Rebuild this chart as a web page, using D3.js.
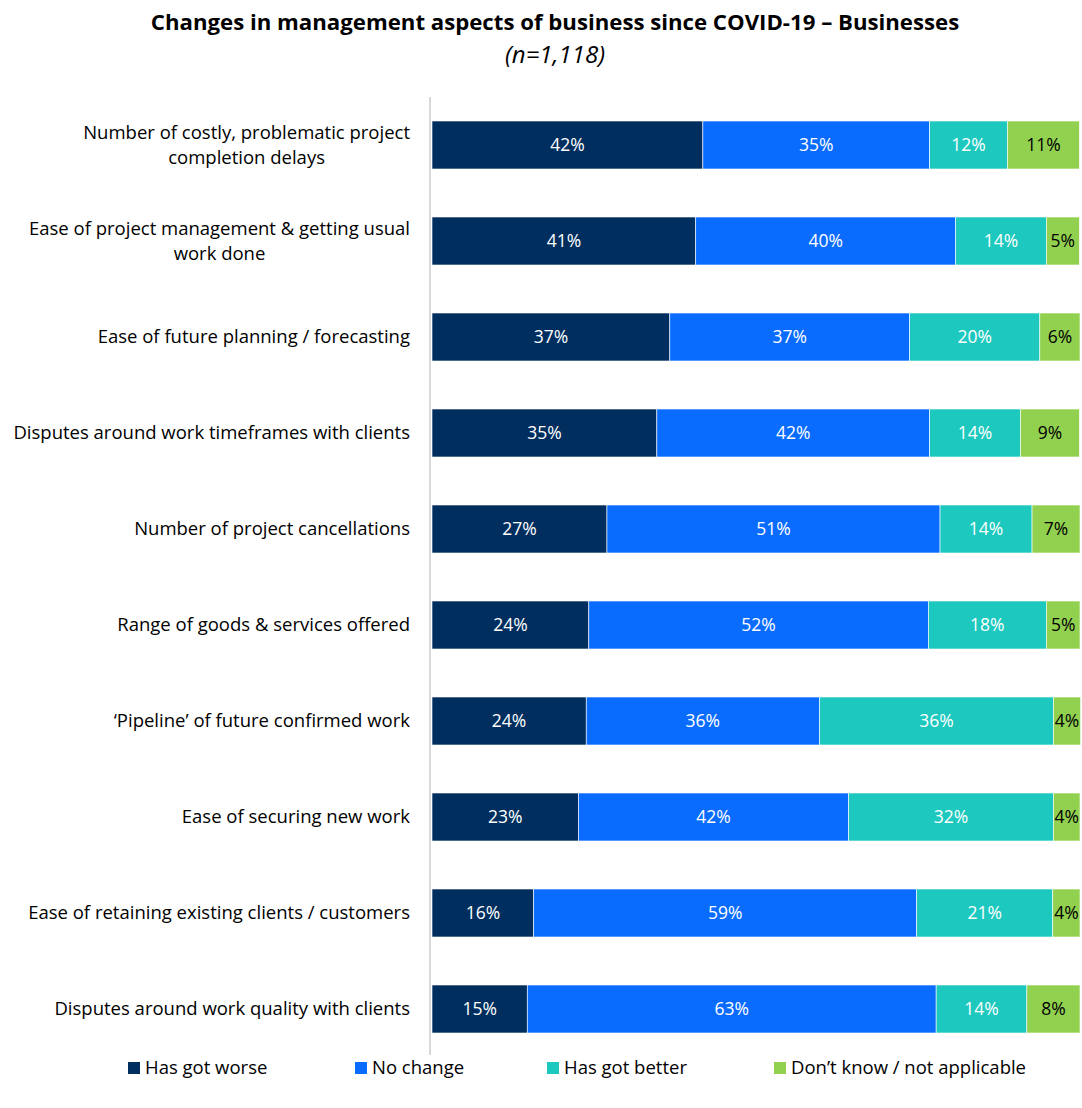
<!DOCTYPE html>
<html>
<head>
<meta charset="utf-8">
<script src="https://cdn.jsdelivr.net/npm/d3@7"></script>
<style>
  body { margin: 0; background: #fff; }
  text { font-family: "Open Sans", sans-serif; }
</style>
</head>
<body>
<div id="Chart"></div>
<script>
// categories (top to bottom)
var categories = [
  "Number of costly, problematic project|completion delays",
  "Ease of project management & getting usual|work done",
  "Ease of future planning / forecasting",
  "Disputes around work timeframes with clients",
  "Number of project cancellations",
  "Range of goods & services offered",
  "\u2018Pipeline\u2019 of future confirmed work",
  "Ease of securing new work",
  "Ease of retaining existing clients / customers",
  "Disputes around work quality with clients"
];
var seriesNames = ["Has got worse", "No change", "Has got better", "Don\u2019t know / not applicable"];
var worse  = [41.8, 40.7, 36.7, 34.7, 27.0, 24.2, 23.8, 22.6, 15.7, 14.7];
var same   = [35.0, 40.1, 37.0, 42.1, 51.4, 52.4, 36.0, 41.7, 59.1, 63.1];
var better = [12.0, 14.0, 20.1, 14.0, 14.2, 18.2, 36.1, 31.6, 21.0, 14.0];
var dunno  = [11.1,  5.1,  6.2,  9.1,  7.4,  5.2,  4.2,  4.1,  4.2,  8.2];
var colors = ["#002f5f", "#0a6cff", "#1dc8be", "#92d050"];
var labelColors = ["#fff", "#fff", "#fff", "#000"];

var W = 1082, H = 1108;
var svg = d3.select("#Chart").append("svg")
  .attr("width", W).attr("height", H);

// title
svg.append("text")
  .attr("x", 555).attr("y", 30)
  .style("text-anchor", "middle")
  .style("font-size", "22.2px")
  .style("font-weight", "bold")
  .text("Changes in management aspects of business since COVID-19 \u2013 Businesses");
svg.append("text")
  .attr("x", 555).attr("y", 63)
  .style("text-anchor", "middle")
  .style("font-size", "24px")
  .style("font-style", "italic")
  .text("(n=1,118)");

var data = categories.map(function(c, i) {
  return {cat: c, s0: worse[i], s1: same[i], s2: better[i], s3: dunno[i]};
});
var keys = ["s0", "s1", "s2", "s3"];
var series = d3.stack().keys(keys)(data);

var x = d3.scaleLinear().domain([0, 100]).range([432, 1080]);
var y = d3.scaleBand().domain(categories).range([97, 1057])
  .paddingInner(0.5).paddingOuter(0.25);

// vertical axis line
svg.append("line")
  .attr("x1", 430).attr("x2", 430)
  .attr("y1", 97).attr("y2", 1055)
  .attr("stroke", "#d9d9d9").attr("stroke-width", 2);

var groups = svg.selectAll("g.layer")
  .data(series)
  .enter().append("g")
  .attr("class", "layer")
  .attr("fill", function(d, i) { return colors[i]; });

groups.selectAll("rect")
  .data(function(d) { return d; })
  .enter().append("rect")
  .attr("x", function(d) { return x(d[0]); })
  .attr("y", function(d) { return y(d.data.cat); })
  .attr("width", function(d) { return x(d[1]) - x(d[0]); })
  .attr("height", y.bandwidth())
  .attr("stroke", "#fff")
  .attr("stroke-width", 0.6);

groups.selectAll("text")
  .data(function(d, i) { return d.map(function(p) { return {p: p, i: i}; }); })
  .enter().append("text")
  .attr("x", function(d) { return (x(d.p[0]) + x(d.p[1])) / 2; })
  .attr("y", function(d) { return y(d.p.data.cat) + y.bandwidth() / 2; })
  .attr("dy", "0.35em")
  .style("text-anchor", "middle")
  .style("font-size", "17.5px")
  .attr("fill", function(d) { return labelColors[d.i]; })
  .text(function(d) { return Math.round(d.p[1] - d.p[0]) + "%"; });

// category labels
var catLabels = svg.selectAll("text.cat")
  .data(categories)
  .enter().append("text")
  .attr("class", "cat")
  .style("text-anchor", "end")
  .style("font-size", "18.5px")
  .attr("fill", "#000")
  .attr("y", function(d) { return y(d) + y.bandwidth() / 2; });
catLabels.each(function(d) {
  var lines = d.split("|");
  var t = d3.select(this);
  lines.forEach(function(l, j) {
    t.append("tspan")
      .attr("x", lines.length > 1 ? null : 410)
      .attr("dy", j == 0 ? (0.35 - (lines.length - 1) * 0.7) + "em" : "1.4em")
      .text(l);
  });
  if (lines.length > 1) {
    // centre wrapped lines under the longest one
    var first = t.select("tspan").node().getComputedTextLength();
    var cx = 410 - first / 2;
    t.style("text-anchor", "middle");
    t.selectAll("tspan").attr("x", cx);
  }
});

// legend
var legX = [128, 355, 547, 774];
var legend = svg.selectAll("g.legend")
  .data(seriesNames)
  .enter().append("g")
  .attr("class", "legend")
  .attr("transform", function(d, i) { return "translate(" + legX[i] + ",1068)"; });
legend.append("rect")
  .attr("x", 0).attr("y", -6)
  .attr("width", 12).attr("height", 12)
  .attr("fill", function(d, i) { return colors[i]; });
legend.append("text")
  .attr("x", 17).attr("dy", "0.35em")
  .style("font-size", "18.5px")
  .text(function(d) { return d; });
</script>
</body>
</html>
